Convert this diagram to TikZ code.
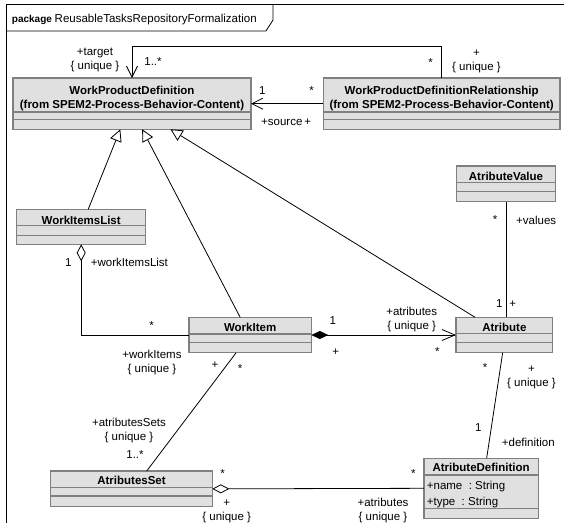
\documentclass[tikz,border=0pt]{standalone}
\usepackage{fontspec}
\setmainfont{Liberation Sans}
\usetikzlibrary{arrows.meta}

\begin{document}
\begin{tikzpicture}[
  x=1pt, y=-1pt,
  every node/.style={inner sep=0pt, font=\fontsize{11.5}{14}\selectfont},
  cls/.style={draw=black!50, line width=1.2pt, fill=black!12, anchor=north west, outer sep=0pt},
  sep/.style={draw=black!50, line width=1.2pt},
  clsname/.style={anchor=base, align=center, font=\fontsize{11.5}{14}\selectfont\bfseries},
  attr/.style={anchor=base west},
  lbl/.style={anchor=base, align=center},
  % connectors: plain association, navigable end, generalization, aggregation, composition
  assoc/.style={draw, line width=0.8pt},
  nav/.style={assoc, -{Straight Barb[length=11pt, width=11pt]}},
  gen/.style={assoc, -{Triangle[open, length=12pt, width=12pt]}},
  agg/.style={assoc, {Diamond[open, length=17pt, width=9pt]}-},
  comp/.style={assoc, {Diamond[length=17pt, width=8pt]}-{Straight Barb[length=13pt, width=11pt]}}]

  \useasboundingbox (0,0) rectangle (564,523);

  % package frame
  \draw[line width=0.8pt] (564,4) -- (6,4) -- (6,523);
  \draw[line width=0.8pt] (6,31) -- (266,31) -- (273,20) -- (273,4);
  \node[anchor=base west] (pkg) at (11.7,22.3)
    {\fontsize{10}{12}\selectfont\bfseries package\ \normalfont\fontsize{11.5}{14}\selectfont ReusableTasksRepositoryFormalization};

  % classes (a two-line node sits on its last baseline)
  \node[cls, minimum width=238, minimum height=51.3] (wpd) at (13,78) {};
  \draw[sep] ([yshift=-34]wpd.north west) -- ([yshift=-34]wpd.north east);
  \draw[sep] ([yshift=-41.3]wpd.north west) -- ([yshift=-41.3]wpd.north east);
  \node[clsname] (wpdname) at ([yshift=-30]wpd.north)
    {WorkProductDefinition\\(from SPEM2-Process-Behavior-Content)};

  \node[cls, minimum width=236.7, minimum height=51.3] (wpdr) at (323.3,78) {};
  \draw[sep] ([yshift=-34]wpdr.north west) -- ([yshift=-34]wpdr.north east);
  \draw[sep] ([yshift=-41.3]wpdr.north west) -- ([yshift=-41.3]wpdr.north east);
  \node[clsname] (wpdrname) at ([yshift=-30]wpdr.north)
    {WorkProductDefinitionRelationship\\(from SPEM2-Process-Behavior-Content)};

  \node[cls, minimum width=129, minimum height=35] (wil) at (16.7,209.3) {};
  \draw[sep] ([yshift=-16]wil.north west) -- ([yshift=-16]wil.north east);
  \draw[sep] ([yshift=-26.4]wil.north west) -- ([yshift=-26.4]wil.north east);
  \node[clsname] (wilname) at ([yshift=-14.7]wil.north) {WorkItemsList};

  \node[cls, minimum width=122.3, minimum height=35.4] (wi) at (189,317.3) {};
  \draw[sep] ([yshift=-16.7]wi.north west) -- ([yshift=-16.7]wi.north east);
  \draw[sep] ([yshift=-25.4]wi.north west) -- ([yshift=-25.4]wi.north east);
  \node[clsname] (winame) at ([yshift=-14.4]wi.north) {WorkItem};

  \node[cls, minimum width=96.7, minimum height=35.4] (atr) at (456,317.3) {};
  \draw[sep] ([yshift=-16]atr.north west) -- ([yshift=-16]atr.north east);
  \draw[sep] ([yshift=-25.4]atr.north west) -- ([yshift=-25.4]atr.north east);
  \node[clsname] (atrname) at ([yshift=-14.4]atr.north) {Atribute};

  \node[cls, minimum width=98.6, minimum height=35.7] (av) at (456.7,166) {};
  \draw[sep] ([yshift=-16.7]av.north west) -- ([yshift=-16.7]av.north east);
  \draw[sep] ([yshift=-25.7]av.north west) -- ([yshift=-25.7]av.north east);
  \node[clsname] (avname) at ([yshift=-14]av.north) {AtributeValue};

  \node[cls, minimum width=161.6, minimum height=35.7] (as) at (50.7,471) {};
  \draw[sep] ([yshift=-16.3]as.north west) -- ([yshift=-16.3]as.north east);
  \draw[sep] ([yshift=-25]as.north west) -- ([yshift=-25]as.north east);
  \node[clsname] (asname) at ([yshift=-13.3]as.north) {AtributesSet};

  \node[cls, minimum width=114.3, minimum height=60] (ad) at (424,458.3) {};
  \draw[sep] ([yshift=-16.7]ad.north west) -- ([yshift=-16.7]ad.north east);
  \draw[sep] ([yshift=-50]ad.north west) -- ([yshift=-50]ad.north east);
  \node[clsname] (adname) at ([yshift=-13.4]ad.north) {AtributeDefinition};
  \node[attr] (adattrname) at (426.7,489) {+name\ \ :\ String};
  \node[attr] (adattrtype) at (426.7,505.7) {+type\ \ :\ String};

  % connectors
  \draw[nav] (wpdr.north) -- ++(0,-32) -| (wpd.north);
  \draw[nav] (wpdr.west) -- (wpd.east);
  \draw[gen] ([xshift=7]wil.north) -- ([xshift=-11.7]wpd.south);
  \draw[gen] ([xshift=-10]wi.north) -- ([xshift=10.2]wpd.south);
  \draw[gen] ([xshift=-29.3]atr.north) -- ([xshift=38.5]wpd.south);
  \draw[agg] (wil.south) |- (wi.west);
  \draw[comp] (wi.east) -- (atr.west);
  \draw[assoc] (av.south) -- (av.south |- atr.north);
  \draw[assoc] ([xshift=-14]wi.south) -- ([xshift=15.2]as.north);
  \draw[agg] (as.east) -- (ad.west);
  \draw[assoc] ([xshift=-1.7]atr.south) -- ([xshift=5.5]ad.north);

  % role names and multiplicities
  \node[lbl] (tgtrole) at (95,69) {+target\\\{ unique \}};
  \node[lbl] (tgtmult) at (153,65) {1..*};
  \node[lbl] (tgtothermult) at (430.5,66.5) {*};
  \node[lbl] (tgtotherrole) at (476.5,70.4) {+\\\{ unique \}};
  \node[lbl] (srcmult) at (262.3,94.3) {1};
  \node[lbl] (srcothermult) at (311.7,94) {*};
  \node[anchor=base west] (srcrole) at (261,125) {+source};
  \node[lbl] (srcotherrole) at (307.7,125) {+};
  \node[lbl] (wilmult) at (68.3,266.7) {1};
  \node[anchor=base west] (wilrole) at (90.7,266.7) {+workItemsList};
  \node[lbl] (wimult) at (151.7,329) {*};
  \node[lbl] (wirole) at (152,372.3) {+workItems\\\{ unique \}};
  \node[lbl] (compmult) at (332.7,324) {1};
  \node[lbl] (comprole) at (335.7,355.8) {+};
  \node[lbl] (atrrole) at (411.7,329) {+atributes\\\{ unique \}};
  \node[lbl] (atrmult) at (437.3,355) {*};
  \node[lbl] (avmult) at (495,223) {*};
  \node[anchor=base west] (avrole) at (516,224) {+values};
  \node[lbl] (atrvmult) at (499.3,307.3) {1};
  \node[lbl] (atrvrole) at (512.7,307.8) {+};
  \node[lbl] (wisrole) at (215,368.4) {+};
  \node[lbl] (wismult) at (240,372) {*};
  \node[lbl] (asrole) at (129,440) {+atributesSets\\\{ unique \}};
  \node[lbl] (asmult) at (135,458.3) {1..*};
  \node[lbl] (asadmult) at (222.7,477) {*};
  \node[lbl] (asadrole) at (226.7,520.4) {+\\\{ unique \}};
  \node[lbl] (adasmult) at (413.3,477) {*};
  \node[lbl] (adasrole) at (383,520.7) {+atributes\\\{ unique \}};
  \node[lbl] (atradmult) at (485,371.5) {*};
  \node[lbl] (atradrole) at (531.5,386.4) {+\\\{ unique \}};
  \node[lbl] (defmult) at (478.3,431.7) {1};
  \node[lbl] (defrole) at (528.3,446) {+definition};
\end{tikzpicture}
\end{document}
